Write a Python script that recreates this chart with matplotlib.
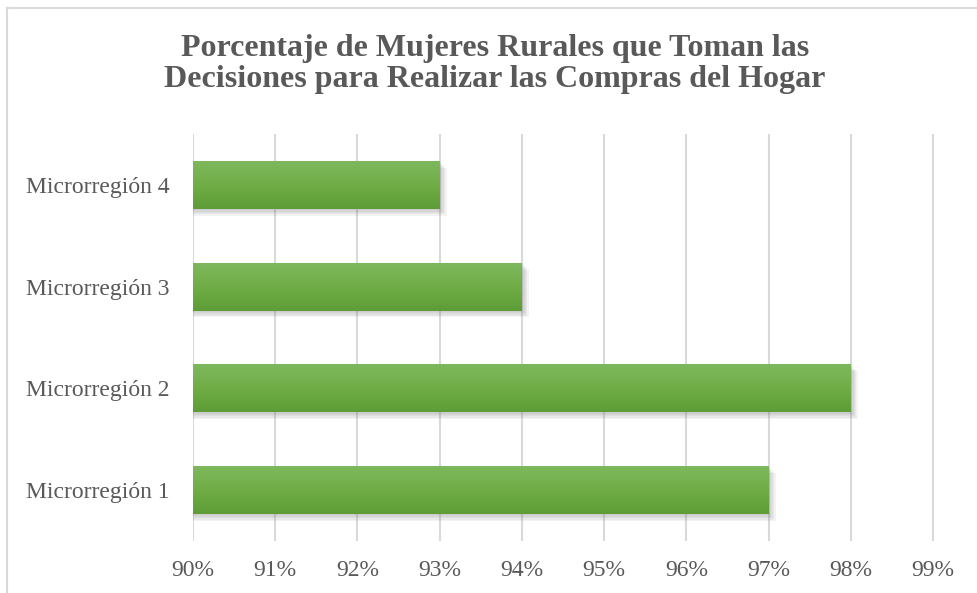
import matplotlib.pyplot as plt
import matplotlib.patheffects as pe
import numpy as np
from matplotlib.lines import Line2D
from matplotlib.colors import LinearSegmentedColormap

# datos
regiones = ['Microrregión 1', 'Microrregión 2', 'Microrregión 3', 'Microrregión 4']
porcentajes = [97, 98, 94, 93]
ticks_x = [90, 91, 92, 93, 94, 95, 96, 97, 98, 99]
titulo = 'Porcentaje de Mujeres Rurales que Toman las\nDecisiones para Realizar las Compras del Hogar'

W, H = 978, 593
fig = plt.figure(figsize=(W / 100, H / 100), dpi=100)
fig.set_facecolor('white')
plt.rcParams['font.family'] = ['Liberation Serif', 'DejaVu Serif']

# el eje llega hasta 100% (fuera del recorte)
x0, x99 = 193, 933
px = (x99 - x0) / 9
x100 = x99 + px
y_top, y_bot = 134, 541
ax = fig.add_axes([x0 / W, 1 - y_bot / H, (x100 - x0) / W, (y_bot - y_top) / H])

y = np.arange(len(regiones))
bars = ax.barh(y, porcentajes, left=0, height=0.47, color='#70ad47', zorder=3)
ax.set_xlim(90, 100)
ax.set_ylim(-0.5, 3.5)

# sombra difusa + degradado
cmap = LinearSegmentedColormap.from_list('verde', ['#5d9c36', '#70ad47', '#7db95c'])
grad = np.linspace(0, 1, 64).reshape(-1, 1)
sombras = [pe.SimplePatchShadow(offset=(d, -d), shadow_rgbFace='#7f7f7f', alpha=0.09)
           for d in (5, 4, 3, 2, 1)]
for b in bars:
    b.set_path_effects(sombras + [pe.Normal()])
    yb, w, h = b.get_y(), b.get_width(), b.get_height()
    im = ax.imshow(grad, cmap=cmap, aspect='auto', origin='lower',
                   extent=[90, w, yb, yb + h], zorder=4, interpolation='bilinear')
    im.set_clip_path(b)

ax.set_xticks(ticks_x)
ax.set_xticklabels([f'{t}%' for t in ticks_x], fontsize=17, color='#595959')
ax.set_yticks(y)
ax.set_yticklabels(regiones, fontsize=17, color='#595959')
ax.tick_params(axis='x', length=0, pad=14)
ax.tick_params(axis='y', length=0, pad=17)
ax.grid(axis='x', color='#d9d9d9', linewidth=1.5, zorder=0)
for s in ax.spines.values():
    s.set_visible(False)

fig.text(0.506, 1 - 64 / H, titulo, ha='center', va='center', fontsize=23,
         fontweight='bold', color='#595959', linespacing=1.05)

# marco del gráfico (recortado)
bx, by = 7.5 / W, 1 - 7.5 / H
fig.add_artist(Line2D([bx, 1], [by, by], color='#d9d9d9', lw=1.5))
fig.add_artist(Line2D([bx, bx], [0, by], color='#d9d9d9', lw=1.5))

fig.savefig('out.png', dpi=100)
